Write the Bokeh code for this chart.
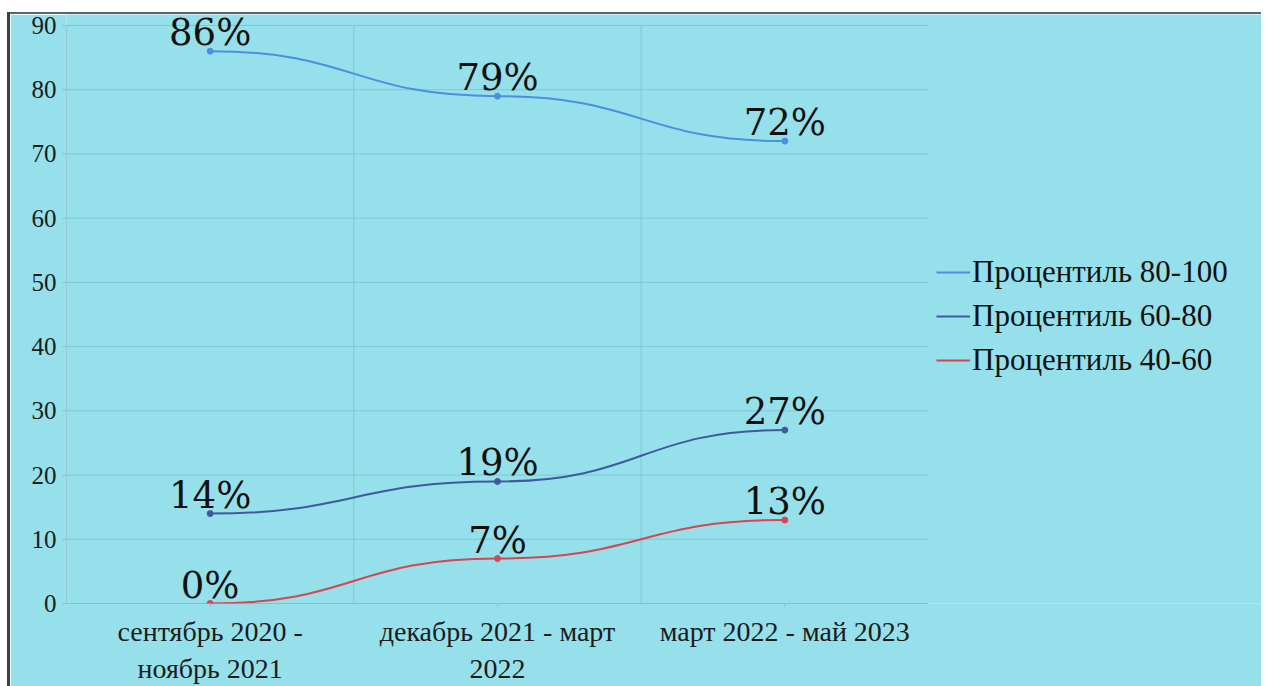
from bokeh.plotting import figure
from bokeh.models import (FixedTicker, Legend, LegendItem, ColumnDataSource, Spacer, Range1d)
from bokeh.layouts import column, row
from bokeh.core.properties import value
from bokeh.embed import file_html
from bokeh.resources import INLINE

# --- data -------------------------------------------------------------
periods = ["сентябрь 2020 -\nноябрь 2021", "декабрь 2021 - март\n2022", "март 2022 - май 2023"]
series_names = ["Процентиль 80-100", "Процентиль 60-80", "Процентиль 40-60"]
p80_100 = [86, 79, 72]
p60_80 = [14, 19, 27]
p40_60 = [0, 7, 13]
y_ticks = [0, 10, 20, 30, 40, 50, 60, 70, 80, 90]

series = [p80_100, p60_80, p40_60]
colors = ["#4a8fe0", "#3f5a9c", "#d94452"]

BG = "#95e0ea"
GRID = "#7fc7d2"
AXIS = "#7ba8b3"

n = len(periods)
y_top = y_ticks[-1]
# category centres on a numeric axis: 0.5, 1.5, 2.5
xs = [i + 0.5 for i in range(n)]

# the frame also covers the legend column to the right and a strip above
# the top tick, so the value labels there are not clipped
FRAME_W, CAT_W = 1195, 862
FRAME_H, TICK_H = 590, 579
x_end = n * FRAME_W / CAT_W
y_end = y_top * FRAME_H / TICK_H

p = figure(width=1251, height=672, x_range=Range1d(0, x_end), y_range=Range1d(0, y_end),
           output_backend="svg", toolbar_location=None,
           min_border_left=56, min_border_right=0, min_border_top=0, min_border_bottom=82)
p.background_fill_color = BG
p.border_fill_color = BG
p.outline_line_color = None

# axes
p.yaxis.ticker = FixedTicker(ticks=y_ticks)
p.xaxis.ticker = FixedTicker(ticks=xs)
p.xaxis.major_label_overrides = {x: lab for x, lab in zip(xs, periods)}
for ax in (p.xaxis, p.yaxis):
    ax.axis_line_color = None
    ax.major_tick_line_color = GRID
    ax.minor_tick_line_color = None
    ax.major_label_text_font = "Liberation Serif"
    ax.major_label_text_color = "#1c1c1c"
p.yaxis.major_label_text_font_size = "25px"
p.xaxis.major_label_text_font_size = "28px"
p.yaxis.major_tick_out = 4
p.yaxis.major_tick_in = 0
p.yaxis.major_label_standoff = 6
p.xaxis.major_tick_out = 3
p.xaxis.major_tick_in = 0
p.xaxis.major_label_standoff = 9

# grid and axis lines limited to the category area
p.xgrid.grid_line_color = None
p.ygrid.grid_line_color = None
p.segment(x0=[0] * len(y_ticks), y0=y_ticks, x1=[n] * len(y_ticks), y1=y_ticks,
          line_color=GRID, line_width=1)
inner = list(range(1, n))
p.segment(x0=inner, y0=[0] * len(inner), x1=inner, y1=[y_top] * len(inner),
          line_color=GRID, line_width=1)
p.segment(x0=[0, 0], y0=[0, 0], x1=[n, 0], y1=[0, y_top], line_color=AXIS, line_width=1)

items = []
for name, vals, col in zip(series_names, series, colors):
    # smooth curve: cubic segments with horizontal tangents at each point
    seg = ColumnDataSource(dict(
        x0=xs[:-1], y0=vals[:-1], x1=xs[1:], y1=vals[1:],
        cx0=[x + 0.5 for x in xs[:-1]], cy0=vals[:-1],
        cx1=[x - 0.5 for x in xs[1:]], cy1=vals[1:],
    ))
    p.bezier(x0="x0", y0="y0", x1="x1", y1="y1", cx0="cx0", cy0="cy0",
             cx1="cx1", cy1="cy1", source=seg, line_color=col, line_width=2)
    p.scatter(xs, vals, size=6, color=col)
    p.text(xs, vals, text=[f"{v}%" for v in vals], text_align="center",
           text_baseline="bottom", y_offset=3,
           text_font=value("DejaVu Serif"), text_font_size="37px", text_color="#111111")
    # single-point line: draws nothing itself, only supplies the legend swatch
    swatch = p.line(xs[:1], vals[:1], line_color=col, line_width=2)
    items.append(LegendItem(label=name, renderers=[swatch]))

legend = Legend(items=items, location=(870, 225), orientation="vertical")
legend.background_fill_alpha = 0
legend.border_line_color = None
legend.label_text_font = "Liberation Serif"
legend.label_text_font_size = "31px"
legend.label_text_color = "#111111"
legend.glyph_width = 34
legend.glyph_height = 20
legend.label_standoff = 2
legend.spacing = 8
legend.padding = 4
legend.margin = 0
p.add_layout(legend)

top_gap = Spacer(width=1267, height=12)
left_gap = Spacer(width=7, height=674)
left_rule = Spacer(width=3, height=674, styles={"background-color": "#3d3f40"})
top_rule = Spacer(width=1251, height=2, styles={"background-color": "#56686e"})
layout = column(top_gap, row(left_gap, left_rule, column(top_rule, p)))

open("out.html", "w").write(file_html(layout, INLINE))
